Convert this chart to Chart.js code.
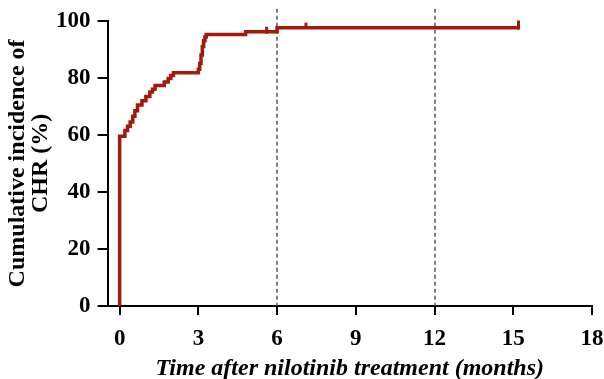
<!DOCTYPE html>
<html>
<head>
<meta charset="utf-8">
<script src="https://cdn.jsdelivr.net/npm/chart.js@4"></script>
<style>
  html, body { margin: 0; padding: 0; background: #fff; }
  #wrap { width: 604px; height: 379px; }
</style>
</head>
<body>
<div id="wrap"><canvas id="chrChart"></canvas></div>
<script>
// Cumulative incidence of CHR, step curve (months, %)
const months = [0, 0, 0.2, 0.3, 0.4, 0.5, 0.58, 0.68, 0.85, 1.0, 1.15, 1.25, 1.35, 1.7, 1.85, 1.95, 2.05,
                3.0, 3.05, 3.1, 3.15, 3.2, 3.25, 3.3, 4.8, 6.0, 15.2];
const incidence = [0, 59.5, 61.5, 63, 64.5, 66.5, 68.5, 70.5, 72, 73.5, 75, 76, 77.3, 78.5, 79.8, 80.8, 81.8,
                   83, 85, 88, 91, 93, 94.3, 95.2, 96.2, 97.6, 97.6];

// censored observations (tick marks)
const censorMonths = [5.6, 7.1, 15.2];
const censorValues = [96.7, 98.3, 98.5];

const xTicks = [0, 3, 6, 9, 12, 15, 18];
const yTicks = [0, 20, 40, 60, 80, 100];
const refLines = [6, 12];

const RED = '#a01b0c';
const FONT = "'Liberation Serif', 'Times New Roman', serif";

// vertical dashed lines at 6 and 12 months
const refLinePlugin = {
    id: 'refLines',
    beforeDatasetsDraw(chart) {
        const { ctx, chartArea, scales } = chart;
        ctx.save();
        ctx.strokeStyle = '#555';
        ctx.lineWidth = 1.5;
        ctx.setLineDash([4, 3]);
        refLines.forEach(v => {
            const x = Math.round(scales.x.getPixelForValue(v));
            ctx.beginPath();
            ctx.moveTo(x, chartArea.top - 12);
            ctx.lineTo(x, chartArea.bottom);
            ctx.stroke();
        });
        ctx.restore();
    }
};

new Chart(document.getElementById('chrChart'), {
    type: 'scatter',
    data: {
        datasets: [
            {
                data: months.map((m, i) => ({ x: m, y: incidence[i] })),
                showLine: true,
                stepped: 'before',
                borderColor: RED,
                borderWidth: 3.5,
                pointRadius: 0,
                clip: false
            },
            {
                data: censorMonths.map((m, i) => ({ x: m, y: censorValues[i] })),
                showLine: false,
                pointStyle: 'line',
                rotation: 90,
                pointRadius: [3.5, 3, 4.5],
                borderColor: RED,
                borderWidth: 3,
                clip: false
            }
        ]
    },
    options: {
        responsive: true,
        maintainAspectRatio: false,
        animation: false,
        layout: { padding: { top: 1, right: 12, left: 0, bottom: 0 } },
        plugins: {
            legend: { display: false },
            tooltip: { enabled: false }
        },
        scales: {
            x: {
                type: 'linear',
                min: -0.46,
                max: 18,
                afterBuildTicks: axis => { axis.ticks = xTicks.map(v => ({ value: v })); },
                afterFit: axis => { axis.paddingRight = 0; },
                border: { display: true, color: '#000', width: 2 },
                grid: { display: true, drawOnChartArea: false, drawTicks: true, tickLength: 9, color: '#000', lineWidth: 2 },
                ticks: { color: '#000', padding: 10, maxRotation: 0, font: { family: FONT, size: 23, weight: 'bold' } },
                title: {
                    display: true,
                    text: 'Time after nilotinib treatment (months)',
                    color: '#000',
                    padding: { top: -4, bottom: 0 },
                    font: { family: FONT, size: 24, weight: 'bold', style: 'italic', lineHeight: 0.85 }
                }
            },
            y: {
                min: 0,
                max: 100,
                afterBuildTicks: axis => { axis.ticks = yTicks.map(v => ({ value: v })); },
                border: { display: true, color: '#000', width: 2 },
                grid: { display: true, drawOnChartArea: false, drawTicks: true, tickLength: 10, color: '#000', lineWidth: 2 },
                ticks: { color: '#000', padding: 7, font: { family: FONT, size: 23, weight: 'bold' } },
                title: {
                    display: true,
                    text: ['Cumulative incidence of', 'CHR (%)'],
                    color: '#000',
                    padding: { top: 6, bottom: -3 },
                    font: { family: FONT, size: 24, weight: 'bold', lineHeight: 0.96 }
                }
            }
        }
    },
    plugins: [refLinePlugin]
});
</script>
</body>
</html>
